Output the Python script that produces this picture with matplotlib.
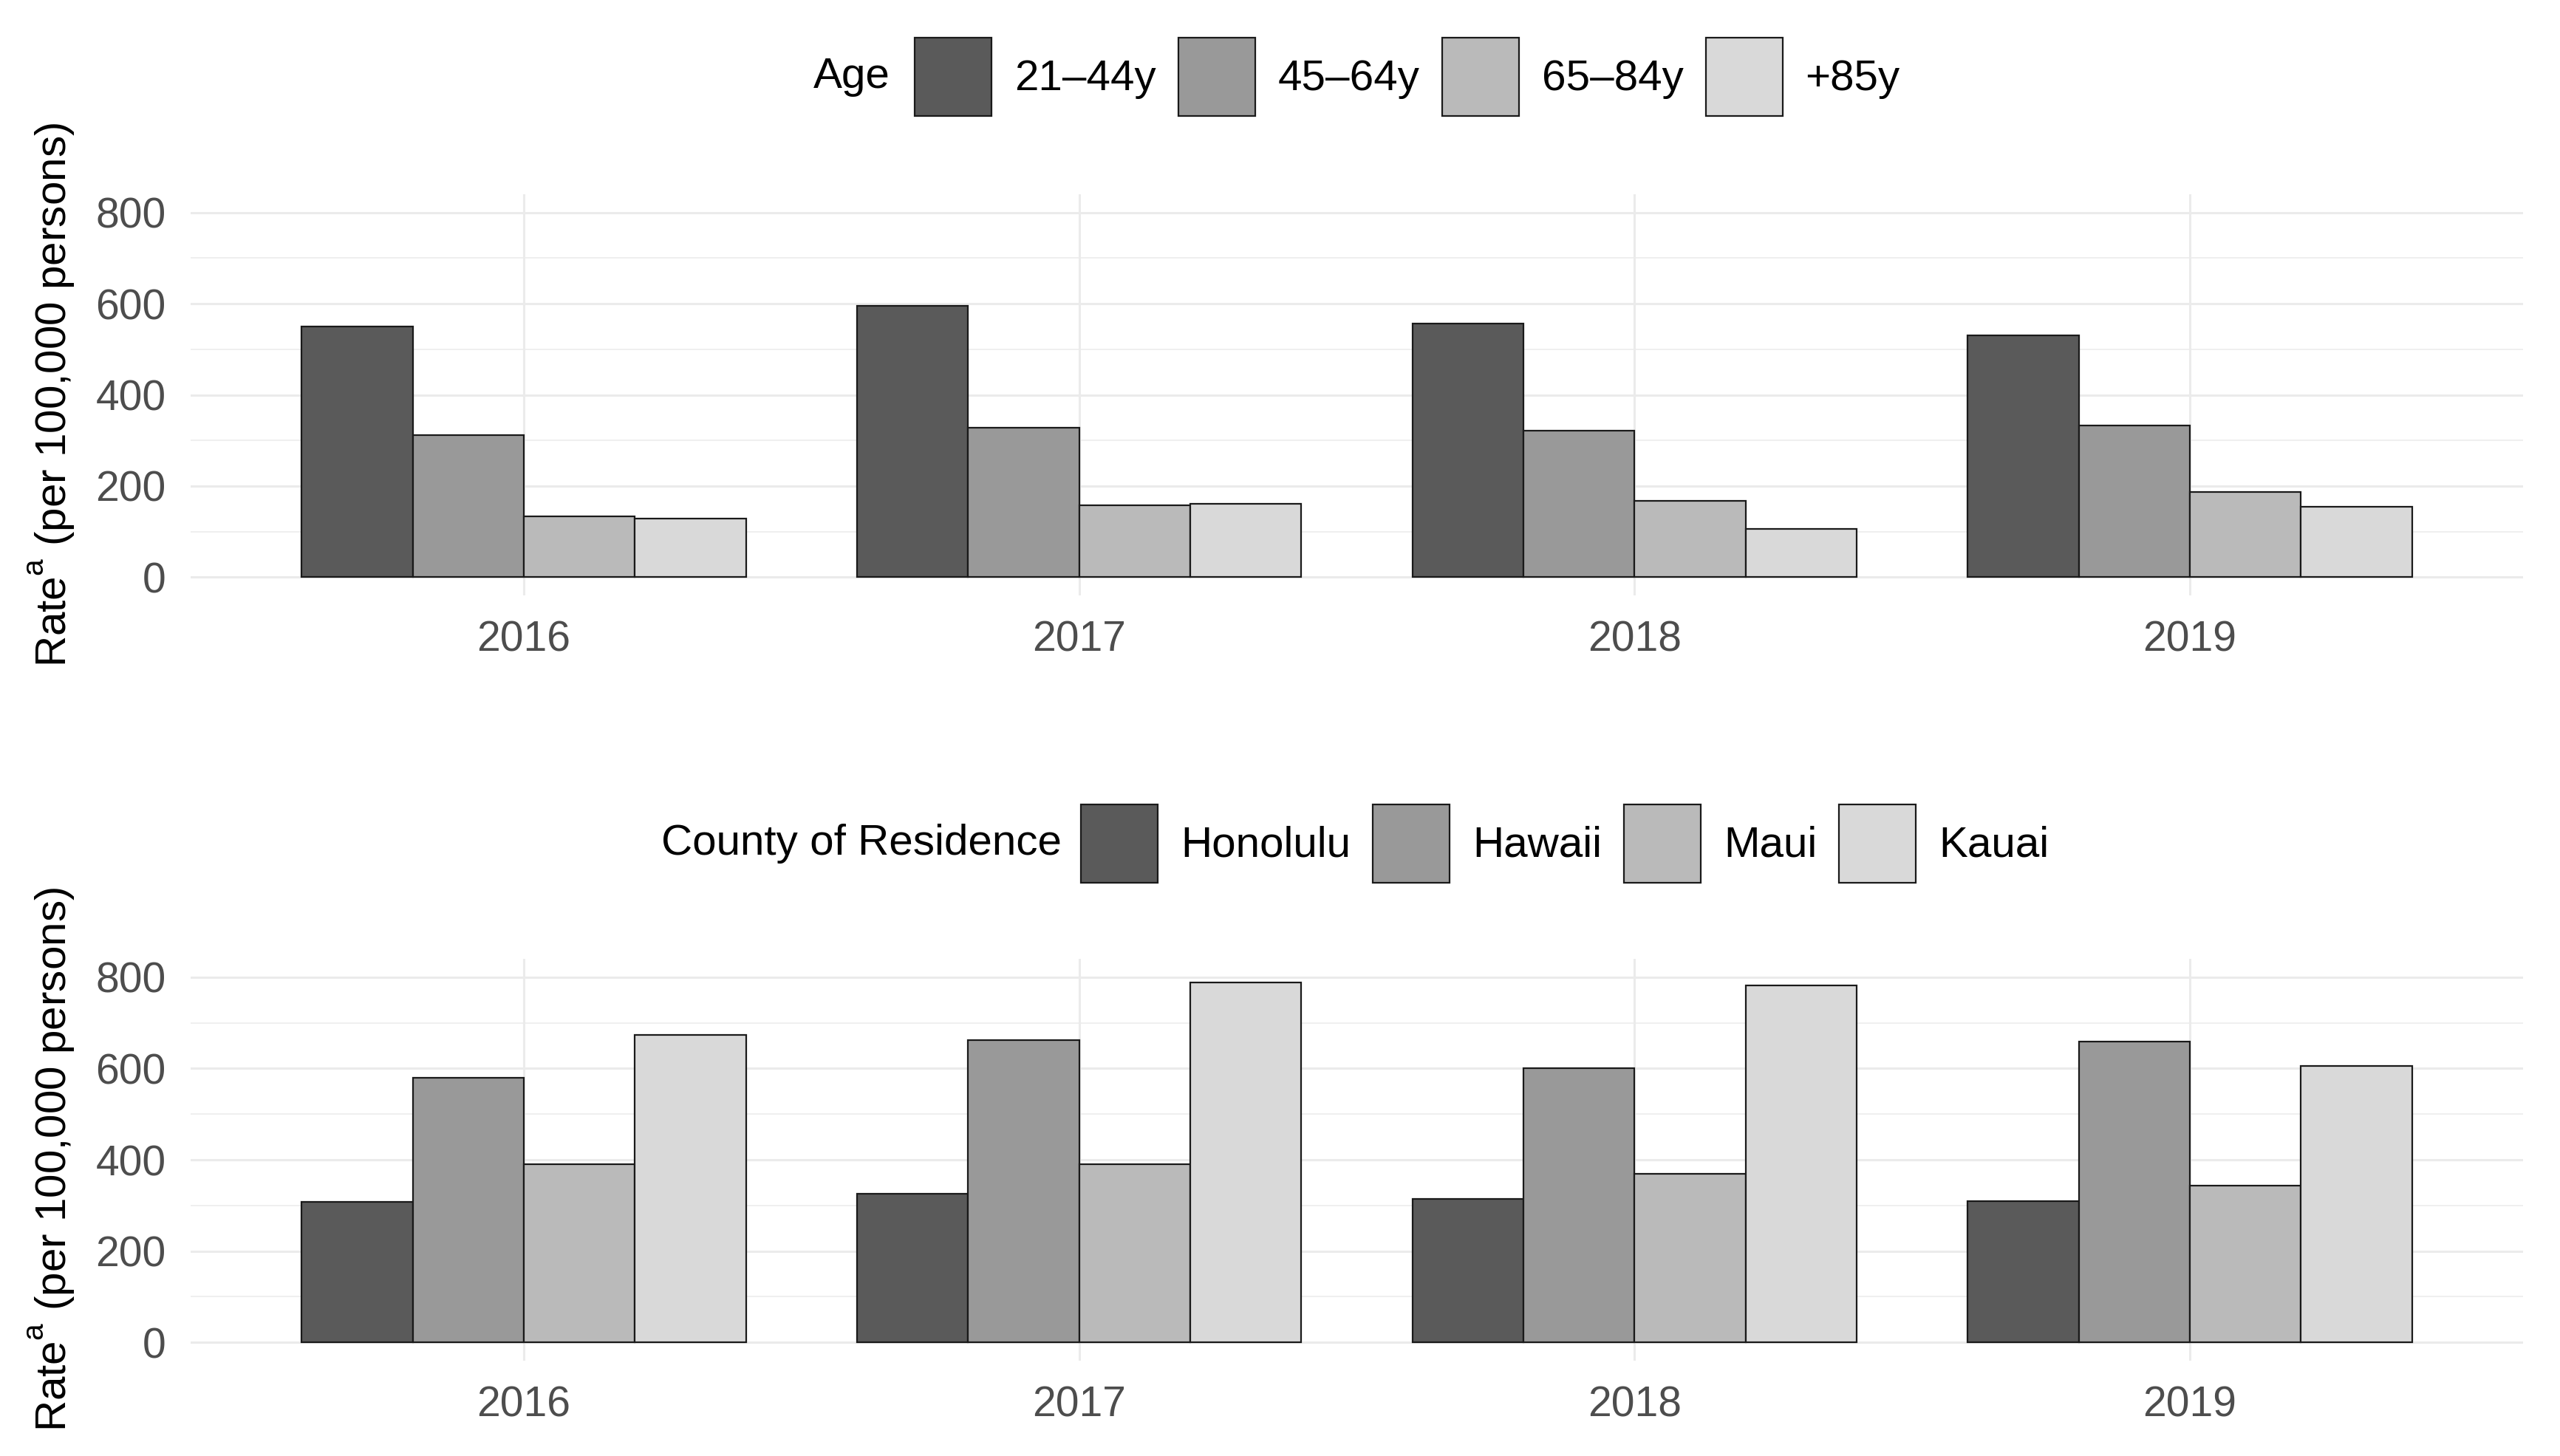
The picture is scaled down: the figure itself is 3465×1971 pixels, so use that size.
import matplotlib
matplotlib.use("Agg")
import matplotlib.pyplot as plt
from matplotlib.patches import Patch
import numpy as np

try:
    import matplotlib._mathtext as _mt
    _mt.FontConstantsBase.sup1 = 1.0
except Exception:
    pass

plt.rcParams['font.family'] = ['Liberation Sans', 'DejaVu Sans']
plt.rcParams['mathtext.fontset'] = 'custom'
plt.rcParams['mathtext.rm'] = 'Liberation Sans'
plt.rcParams['mathtext.it'] = 'Liberation Sans:italic'

years = ["2016", "2017", "2018", "2019"]

age_groups = ["21\u201344y", "45\u201364y", "65\u201384y", "+85y"]
age_21_44 = [550, 595, 557, 531]
age_45_64 = [311, 328, 322, 332]
age_65_84 = [134, 157, 167, 187]
age_85p = [128, 161, 106, 154]

counties = ["Honolulu", "Hawaii", "Maui", "Kauai"]
honolulu = [308, 326, 315, 310]
hawaii = [580, 662, 600, 659]
maui = [391, 391, 369, 344]
kauai = [673, 788, 781, 606]

colors = ["#5A5A5A", "#999999", "#BABABA", "#D9D9D9"]

W, H = 3466, 1971
DPI = 200
fig = plt.figure(figsize=(W / DPI, H / DPI), dpi=DPI)

FS_TICK = 20.5
FS_TEXT = 21
fs_px = FS_TEXT / 72 * DPI

def fx(px):
    return px / W

def fy(py):
    return 1 - py / H

# legend handle height in matplotlib: fs*(0.65*hh + 0.245)
key_h = 106
key_w = 104
hh = (key_h / fs_px - 0.245) / 0.65

left, right = 258, 3415
panels = [
    dict(top=263, bottom=806, series=[age_21_44, age_45_64, age_65_84, age_85p],
         labels=age_groups, title="Age", title_right=1205, key_left=1238, leg_y=104),
    dict(top=1298, bottom=1842, series=[honolulu, hawaii, maui, kauai],
         labels=counties, title="County of Residence", title_right=1437, key_left=1463, leg_y=1142),
]

for p in panels:
    ax = fig.add_axes([fx(left), fy(p['bottom']), fx(right - left), (p['bottom'] - p['top']) / H])
    x = np.arange(1, len(years) + 1)
    n = len(p['series'])
    width = 0.8 / n
    for i, vals in enumerate(p['series']):
        ax.bar(x - 0.4 + width * (i + 0.5), vals, width=width, color=colors[i],
               edgecolor="#1A1A1A", linewidth=0.8, zorder=3)
    ax.set_xlim(0.4, 4.6)
    ax.set_ylim(-40, 840)
    ax.set_yticks([0, 200, 400, 600, 800])
    ax.set_yticks([100, 300, 500, 700], minor=True)
    ax.set_xticks(x)
    ax.set_xticklabels(years)
    for s in ax.spines.values():
        s.set_visible(False)
    ax.tick_params(axis='both', which='both', length=0, labelsize=FS_TICK, labelcolor="#4D4D4D")
    ax.tick_params(axis='y', pad=12)
    ax.tick_params(axis='x', pad=12)
    ax.grid(True, which='major', color="#EBEBEB", linewidth=1.1, zorder=0)
    ax.grid(True, which='minor', axis='y', color="#EBEBEB", linewidth=0.55, zorder=0)
    ax.set_axisbelow(True)

    ymid = (p['top'] + p['bottom']) / 2
    fig.text(fx(70), fy(ymid), r"$\mathrm{Rate}^{\mathrm{a}}$ (per 100,000 persons)", rotation=90,
             ha='center', va='center', fontsize=FS_TEXT, color="black")

    handles = [Patch(facecolor=colors[i], edgecolor="#1A1A1A", linewidth=0.8) for i in range(n)]
    fig.text(fx(p['title_right']), fy(p['leg_y']), p['title'], ha='right', va='center',
             fontsize=FS_TEXT, color="black")
    fig.legend(handles, p['labels'], loc='center left',
               bbox_to_anchor=(fx(p['key_left']), fy(p['leg_y'])),
               ncol=n, frameon=False, fontsize=FS_TEXT, borderpad=0, borderaxespad=0,
               handlelength=key_w / fs_px, handleheight=hh,
               handletextpad=31 / fs_px, columnspacing=30 / fs_px)

fig.savefig("out.png", dpi=DPI, facecolor="white")
